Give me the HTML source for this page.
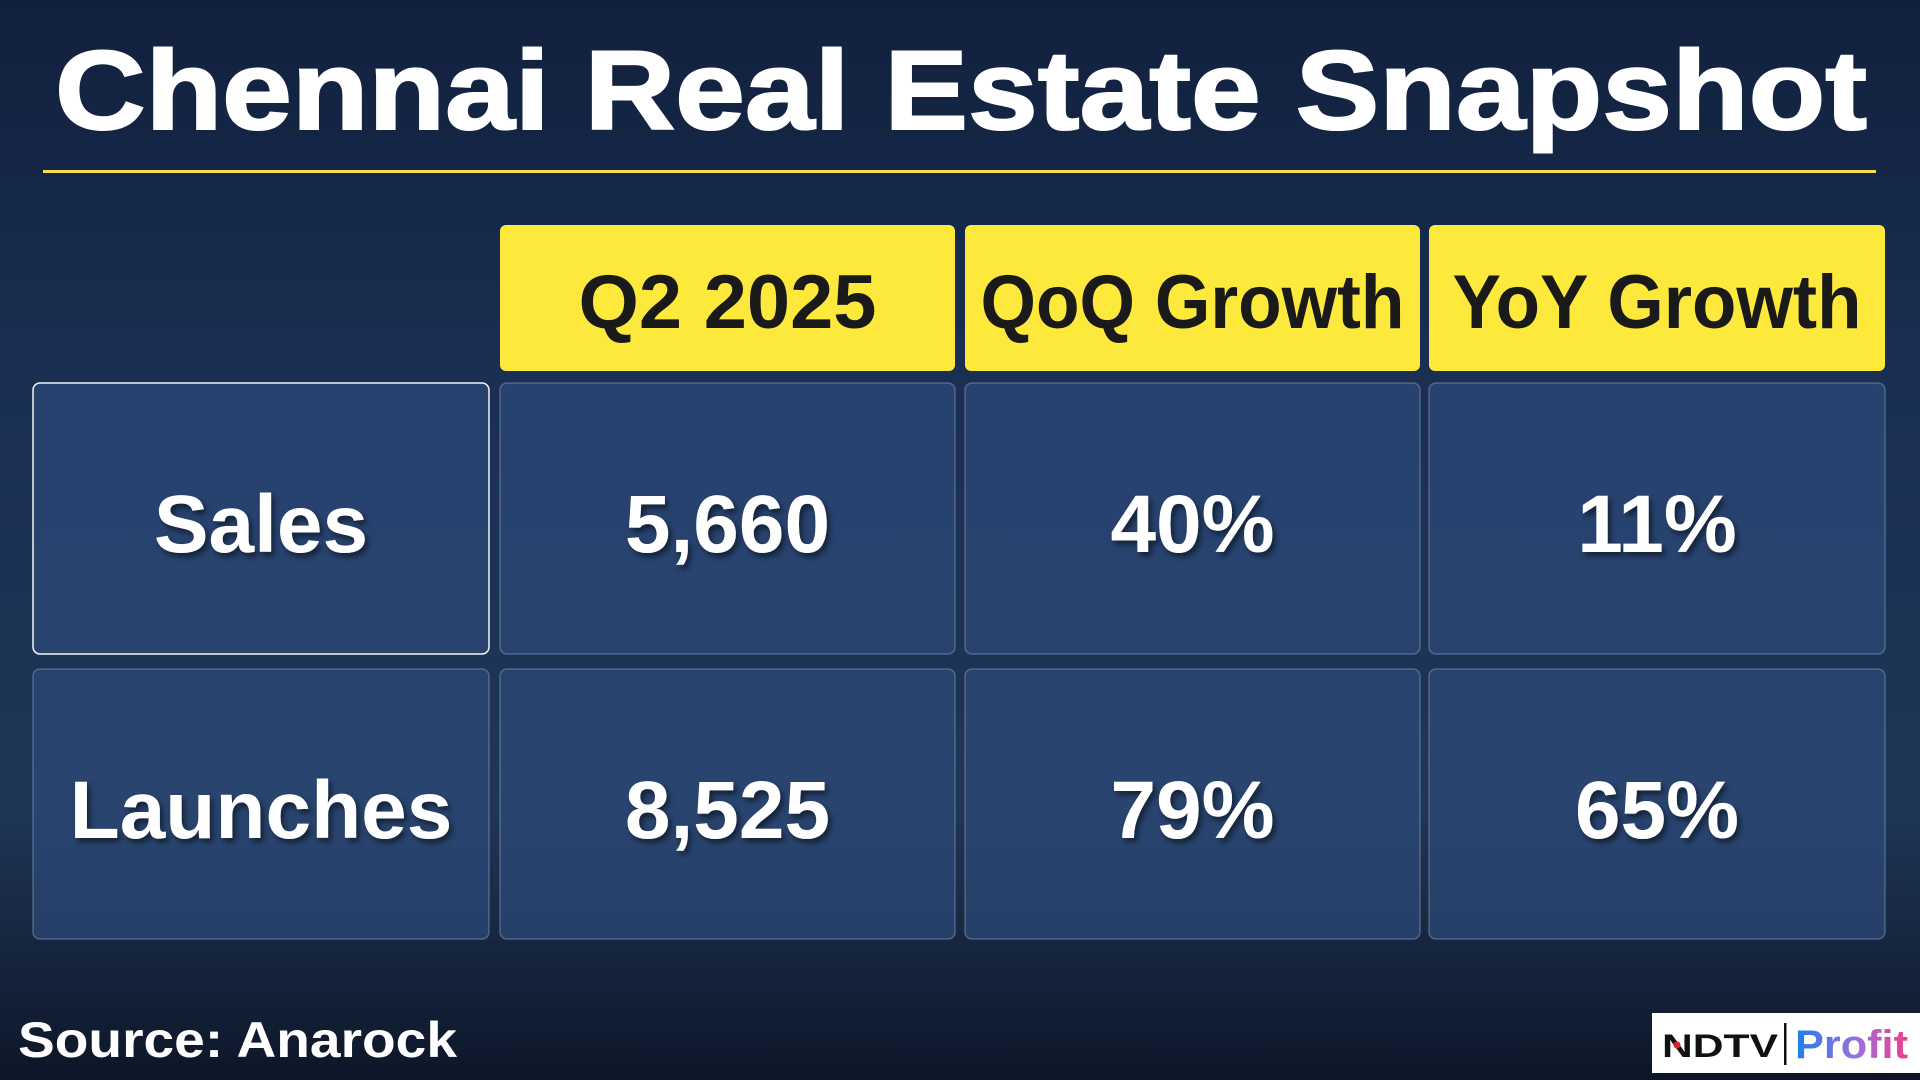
<!DOCTYPE html>
<html><head><meta charset="utf-8"><style>
html,body{margin:0;padding:0;width:1920px;height:1080px;overflow:hidden;background:#14233f}
svg{display:block}
text{font-family:"Liberation Sans",sans-serif;font-weight:bold}
</style></head><body>
<svg id="s" width="1920" height="1080" viewBox="0 0 1920 1080">
<defs>
<linearGradient id="bg" x1="0" y1="0" x2="0" y2="1">
<stop offset="0" stop-color="#11203d"/><stop offset="0.35" stop-color="#1a2f52"/><stop offset="0.75" stop-color="#1f3656"/><stop offset="1" stop-color="#0d1628"/></linearGradient>
<linearGradient id="pg" x1="0" y1="0" x2="1" y2="0"><stop offset="0" stop-color="#1e7fe8"/><stop offset="0.55" stop-color="#9a6fe0"/><stop offset="1" stop-color="#ef3f8a"/></linearGradient>
<filter id="sh"><feDropShadow dx="3" dy="4" stdDeviation="3" flood-color="#000" flood-opacity="0.5"/></filter>
</defs>
<rect width="1920" height="1080" fill="url(#bg)"/>
<text x="55" y="129" font-size="112" fill="#fff" stroke="#fff" stroke-width="2" textLength="1812" lengthAdjust="spacingAndGlyphs">Chennai Real Estate Snapshot</text>
<rect x="43" y="170" width="1833" height="3" fill="#f4e04a"/>
<g id="tbl"></g>
<text x="18" y="1057" font-size="50" fill="#fff" textLength="439" lengthAdjust="spacingAndGlyphs">Source: Anarock</text>
<g>
<rect x="1652" y="1013" width="268" height="60" fill="#fff"/>
<text x="1662" y="1057" font-size="32" fill="#111" textLength="116" lengthAdjust="spacingAndGlyphs">NDTV</text>
<circle cx="1677" cy="1045" r="3.5" fill="#e0202a"/>
<rect x="1784" y="1023" width="2.5" height="42" fill="#111"/>
<text x="1795" y="1058" font-size="40" fill="url(#pg)" textLength="113" lengthAdjust="spacingAndGlyphs">Profit</text>
</g>
</svg>
<script>
const headers=["Q2 2025","QoQ Growth","YoY Growth"];
const rowLabels=["Sales","Launches"];
const q2Values=["5,660","8,525"];
const qoqValues=["40%","79%"];
const yoyValues=["11%","65%"];
const NS="http://www.w3.org/2000/svg";
const g=document.getElementById('tbl');
const colX=[33,500,965,1429], colW=[456,455,455,456];
const rowY=[383,669], rowH=[271,270];
const headerTextW=[298,424,409];
function mk(t,a){const e=document.createElementNS(NS,t);for(const k in a)e.setAttribute(k,a[k]);g.appendChild(e);return e;}
function txt(s,cx,y,fs,fill){const e=mk('text',{x:cx,y:y,'font-size':fs,fill:fill,'text-anchor':'middle'});e.textContent=s;return e;}
headers.forEach((h,i)=>{
 const r=mk('rect',{x:colX[i+1],y:225,width:colW[i+1],height:146,rx:6,fill:'#fde93c'});
 
 
 const t=txt(h,colX[i+1]+colW[i+1]/2,328,76,'#1a1a1a');
 t.setAttribute('textLength',headerTextW[i]);
 t.setAttribute('lengthAdjust','spacingAndGlyphs');
 
 
});
const cols=[rowLabels,q2Values,qoqValues,yoyValues];
rowLabels.forEach((lab,r)=>{
 cols.forEach((arr,c)=>{
  const rc=mk('rect',{x:colX[c],y:rowY[r],width:colW[c],height:rowH[r],rx:7,fill:'#2d4a78','fill-opacity':0.72,stroke:(c==0&&r==0)?'#ffffff':'#8096b8','stroke-opacity':(c==0&&r==0)?0.95:0.5,'stroke-width':1.5});
  
  
  const t=txt(arr[r],colX[c]+colW[c]/2,r==0?552:838,82,'#fff');
  t.setAttribute('filter','url(#sh)');
  
  
 });
});
</script>
</body></html>
